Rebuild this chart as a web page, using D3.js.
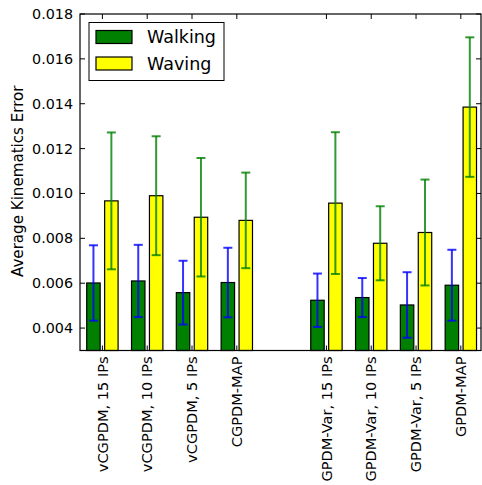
<!DOCTYPE html>
<html>
<head>
<meta charset="utf-8">
<script src="https://cdn.jsdelivr.net/npm/d3@7"></script>
<style>
  html, body { margin: 0; padding: 0; background: #fff; }
  svg { display: block; font-family: "DejaVu Sans", sans-serif; }
</style>
</head>
<body>
<svg id="chart" width="482" height="485"></svg>
<script>
// ---- data ----
const categories = ["vCGPDM, 15 IPs", "vCGPDM, 10 IPs", "vCGPDM, 5 IPs", "CGPDM-MAP",
                    "GPDM-Var, 15 IPs", "GPDM-Var, 10 IPs", "GPDM-Var, 5 IPs", "GPDM-MAP"];
const positions = [0, 1, 2, 3, 5, 6, 7, 8];
const walkingMean = [0.00601, 0.00610, 0.00558, 0.00603, 0.00524, 0.00536, 0.00503, 0.00591];
const walkingStd  = [0.00168, 0.00161, 0.00142, 0.00155, 0.00119, 0.00087, 0.00146, 0.00158];
const wavingMean  = [0.00967, 0.00990, 0.00894, 0.00880, 0.00957, 0.00778, 0.00826, 0.01385];
const wavingStd   = [0.00305, 0.00265, 0.00264, 0.00213, 0.00316, 0.00165, 0.00236, 0.00311];
const seriesNames = ["Walking", "Waving"];
const yTicks = [0.004, 0.006, 0.008, 0.010, 0.012, 0.014, 0.016, 0.018];

// ---- layout ----
const svg = d3.select("#chart");
const L = 80, R = 481, T = 14, B = 350.5;
const x = d3.scaleLinear().domain([-0.5, 8.45]).range([L, R]);
const y = d3.scaleLinear().domain([0.003, 0.018]).range([B, T]);
const barW = 0.3, off = 0.05;

const series = [
  {name: seriesNames[0], mean: walkingMean, std: walkingStd, fill: "#008000", err: "#0000ff", x0: -off - barW},
  {name: seriesNames[1], mean: wavingMean, std: wavingStd, fill: "#ffff00", err: "#008000", x0: off}
];

const plot = svg.append("g");
series.forEach(s => {
  const g = plot.append("g");
  positions.forEach((p, i) => {
    const xa = x(p + s.x0), xb = x(p + s.x0 + barW);
    g.append("rect")
      .attr("x", xa).attr("y", y(s.mean[i]))
      .attr("width", xb - xa).attr("height", B - y(s.mean[i]))
      .attr("fill", s.fill).attr("stroke", "#000").attr("stroke-width", 1.2);
  });
});
series.forEach(s => {
  const g = plot.append("g").attr("stroke", s.err).attr("stroke-opacity", 0.8).attr("stroke-width", 2);
  positions.forEach((p, i) => {
    const cx = x(p + s.x0 + barW / 2);
    const lo = Math.max(s.mean[i] - s.std[i], 0.003), hi = s.mean[i] + s.std[i];
    g.append("line").attr("x1", cx).attr("x2", cx).attr("y1", y(lo)).attr("y2", y(hi));
    g.append("line").attr("x1", cx - 4.5).attr("x2", cx + 4.5).attr("y1", y(hi)).attr("y2", y(hi));
    if (s.mean[i] - s.std[i] > 0.003)
      g.append("line").attr("x1", cx - 4.5).attr("x2", cx + 4.5).attr("y1", y(lo)).attr("y2", y(lo));
  });
});

// ---- axes ----
const tickLen = 5;
const xt = positions.map(p => x(p));
const axisG = svg.append("g").attr("stroke", "#000").attr("stroke-width", 1);
xt.forEach(tx => {
  axisG.append("line").attr("x1", tx).attr("x2", tx).attr("y1", B).attr("y2", B - tickLen);
  axisG.append("line").attr("x1", tx).attr("x2", tx).attr("y1", T).attr("y2", T + tickLen);
});
yTicks.forEach(v => {
  axisG.append("line").attr("x1", L).attr("x2", L + tickLen).attr("y1", y(v)).attr("y2", y(v));
  axisG.append("line").attr("x1", R).attr("x2", R - tickLen).attr("y1", y(v)).attr("y2", y(v));
});
svg.append("rect").attr("x", L).attr("y", T).attr("width", R - L).attr("height", B - T)
  .attr("fill", "none").attr("stroke", "#000").attr("stroke-width", 1.2);

// y tick labels
svg.append("g").selectAll("text").data(yTicks).join("text")
  .attr("x", L - 7).attr("y", d => y(d)).attr("dy", "0.35em")
  .attr("text-anchor", "end").attr("font-size", 14.3)
  .text(d => d3.format(".3f")(d));

// x tick labels
svg.append("g").selectAll("text").data(categories).join("text")
  .attr("transform", (d, i) => `translate(${x(positions[i])},${B + 6}) rotate(-90)`)
  .attr("dy", "0.35em").attr("text-anchor", "end").attr("font-size", 14.6)
  .text(d => d);

// y label
svg.append("text").attr("transform", `translate(22.5,${(T + B) / 2 - 1}) rotate(-90)`)
  .attr("text-anchor", "middle").attr("font-size", 15.1)
  .text("Average Kinematics Error");

// ---- legend ----
const lg = svg.append("g");
lg.append("rect").attr("x", 89).attr("y", 22.5).attr("width", 135).attr("height", 58)
  .attr("fill", "#fff").attr("stroke", "#000").attr("stroke-width", 1);
series.forEach((s, i) => {
  lg.append("rect").attr("x", 96).attr("y", 30.5 + i * 26.5).attr("width", 36).attr("height", 13)
    .attr("fill", s.fill).attr("stroke", "#000").attr("stroke-width", 1.2);
  lg.append("text").attr("x", 147).attr("y", 43 + i * 26.5).attr("font-size", 17.5)
    .text(s.name);
});
</script>
</body>
</html>
